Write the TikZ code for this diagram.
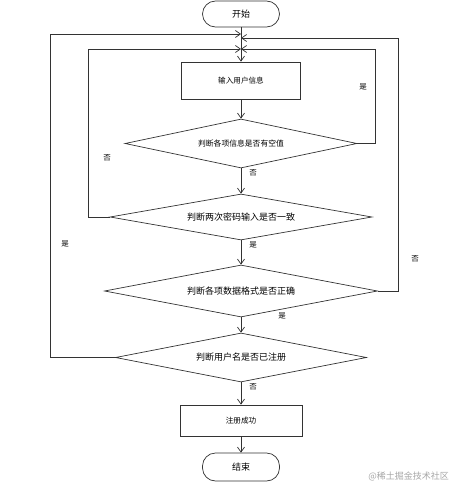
\documentclass[tikz,border=0pt]{standalone}
\usepackage{fontspec}
\setmainfont{Noto Sans CJK SC}
\usetikzlibrary{shapes.geometric,arrows.meta}
\begin{document}
\begin{tikzpicture}[x=1pt,y=-1pt,
  line/.style={draw=black!80, line width=0.7pt},
  arr/.style={line, -{Straight Barb[length=5pt,width=7pt]}},
  term/.style={line, rectangle, rounded corners=13pt, minimum width=77pt, inner sep=0pt, font=\fontsize{9}{10}\selectfont},
  procbox/.style={line, rectangle, inner sep=0pt, font=\fontsize{7.6}{9}\selectfont},
  decide/.style={line, diamond, inner sep=0pt},
  dtext/.style={inner sep=0pt, font=\fontsize{9}{10}\selectfont},
  lab/.style={font=\fontsize{7.5}{9}\selectfont, inner sep=0pt}]
\useasboundingbox (0,0) rectangle (462,495);
\node[term, minimum height=26pt] (start) at (241,14) {开始};
\node[procbox, minimum width=119pt, minimum height=37pt] (in) at (241,80.5) {输入用户信息};
\node[decide, minimum width=232pt, minimum height=49pt] (d1) at (241,143.5) {};
\node[dtext, font=\fontsize{7.8}{9}\selectfont] (t1) at (d1.center) {判断各项信息是否有空值};
\node[decide, minimum width=262pt, minimum height=46pt] (d2) at (241,217) {};
\node[dtext] (t2) at (d2.center) {判断两次密码输入是否一致};
\node[decide, minimum width=273pt, minimum height=52pt] (d3) at (241,291) {};
\node[dtext] (t3) at (d3.center) {判断各项数据格式是否正确};
\node[decide, minimum width=251pt, minimum height=49pt] (d4) at (241,357.5) {};
\node[dtext] (t4) at (d4.center) {判断用户名是否已注册};
\node[procbox, minimum width=122pt, minimum height=31pt] (ok) at (241,420.5) {注册成功};
\node[term, minimum height=28pt] (end) at (241,467) {结束};
\coordinate (j1) at (241,34);
\coordinate (j2) at (241,38);
\coordinate (j3) at (241,49);
\draw[arr] (start) -- (in);
\draw[arr] (in) -- (d1);
\draw[arr] (d1) -- (d2);
\draw[arr] (d2) -- (d3);
\draw[arr] (d3) -- (d4);
\draw[arr] (d4) -- (ok);
\draw[arr] (ok) -- (end);
\draw[arr] (d2.west) -- ++(-21,0) |- (j3);
\draw[arr] (d1.east) -- ++(18,0) |- (j3);
\draw[arr] (d3.east) -- ++(20,0) |- (j2);
\draw[arr] (d4.west) -- ++(-65,0) |- (j1);
\node[lab] (l1) at (253,173) {否};
\node[lab] (l2) at (253,245) {是};
\node[lab] (l3) at (282,316) {是};
\node[lab] (l4) at (253,387) {否};
\node[lab] (l5) at (107,158) {否};
\node[lab] (l6) at (363,87) {是};
\node[lab] (l7) at (415,259) {否};
\node[lab] (l8) at (65,244) {是};
\node[font=\fontsize{9}{10}\selectfont, text=black!35, anchor=east, inner sep=0pt] (wm) at (449,476) {@稀土掘金技术社区};
\end{tikzpicture}
\end{document}
